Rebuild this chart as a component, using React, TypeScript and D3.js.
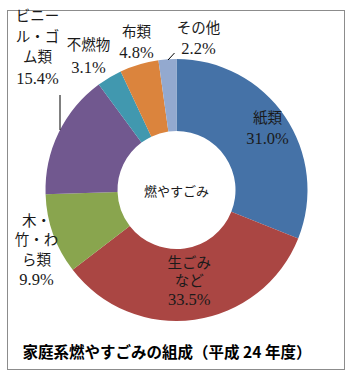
// @ts-nocheck
import React, { useEffect, useRef } from "react";
import * as d3 from "d3";

const categories = ["紙類", "生ごみなど", "木・竹・わら類", "ビニール・ゴム類", "不燃物", "布類", "その他"];
const values = [31.0, 33.5, 9.9, 15.4, 3.1, 4.8, 2.2];
const labelLines = [
  ["紙類", "31.0%"],
  ["生ごみ", "など", "33.5%"],
  ["木・", "竹・わ", "ら類", "9.9%"],
  ["ビニー", "ル・ゴ", "ム類", "15.4%"],
  ["不燃物", "3.1%"],
  ["布類", "4.8%"],
  ["その他", "2.2%"],
];
const colors = ["#4572A7", "#AA4643", "#89A54E", "#71588F", "#4198AF", "#DB843D", "#93A9CF"];

const App = () => {
  const ref = useRef();
  useEffect(() => {
    const svg = d3.select(ref.current);
    svg.selectAll("*").remove();
    const cx = 176.5,
      cy = 190,
      outer = 131,
      inner = 59;
    const font = "'Liberation Serif', 'Noto Sans CJK JP', serif";

    svg
      .append("rect")
      .attr("x", 7.5)
      .attr("y", 10.5)
      .attr("width", 337)
      .attr("height", 359)
      .attr("fill", "#fff")
      .attr("stroke", "#8c8c8c")
      .attr("stroke-width", 1);

    const pie = d3
      .pie()
      .sort(null)
      .value(d => d)
      .startAngle(0)
      .endAngle(2 * Math.PI);
    const arcs = pie(values);
    const arc = d3.arc().innerRadius(inner).outerRadius(outer);

    const g = svg.append("g").attr("transform", `translate(${cx},${cy})`);
    g.selectAll("path")
      .data(arcs)
      .join("path")
      .attr("d", arc)
      .attr("fill", (d, i) => colors[i]);

    // label placement (relative to chart centre): inside labels use the arc
    const inside = d3.arc().innerRadius(110).outerRadius(110);
    const inside2 = d3.arc().innerRadius(92).outerRadius(92);
    const pos = [
      inside.centroid(arcs[0]),
      inside2.centroid(arcs[1]),
      [-140, 60],
      [-139, -143],
      [-88, -134],
      [-40, -148],
      [22, -152],
    ];
    const lineH = [20, 18, 19.5, 20.5, 22, 20, 21];

    labelLines.forEach((lines, i) => {
      const [x, y] = pos[i];
      const t = g
        .append("text")
        .attr("text-anchor", "middle")
        .attr("font-family", font)
        .attr("font-size", 14.5)
        .attr("fill", "#1a1a1a");
      const y0 = y - ((lines.length - 1) * lineH[i]) / 2;
      lines.forEach((s, j) => {
        t.append("tspan")
          .attr("x", x)
          .attr("y", y0 + j * lineH[i])
          .attr("dy", "0.35em")
          .attr("font-size", s.endsWith("%") ? 16.5 : 14.5)
          .text(s);
      });
    });

    // leader lines
    const leader = d3.line();
    g.append("path")
      .attr("d", leader([[-116.5, -95], [-116.5, -60]]))
      .attr("stroke", "#000")
      .attr("fill", "none");
    g.append("path")
      .attr("d", leader([[-8.5, -130], [-2, -137]]))
      .attr("stroke", "#000")
      .attr("fill", "none");

    g.append("text")
      .attr("text-anchor", "middle")
      .attr("dy", "0.35em")
      .attr("y", 1)
      .attr("font-family", font)
      .attr("font-size", 13)
      .attr("fill", "#1a1a1a")
      .text("燃やすごみ");

    svg
      .append("text")
      .attr("x", 167)
      .attr("y", 353)
      .attr("dy", "0.35em")
      .attr("text-anchor", "middle")
      .attr("font-family", "'Noto Sans CJK JP', sans-serif")
      .attr("font-weight", "bold")
      .attr("font-size", 15.5)
      .text("家庭系燃やすごみの組成（平成 24 年度）");
  }, []);

  return (
    <svg
      ref={ref}
      width={361}
      height={380}
      style={{ position: "absolute", left: 0, top: 0 }}
    ></svg>
  );
};

export default App;
